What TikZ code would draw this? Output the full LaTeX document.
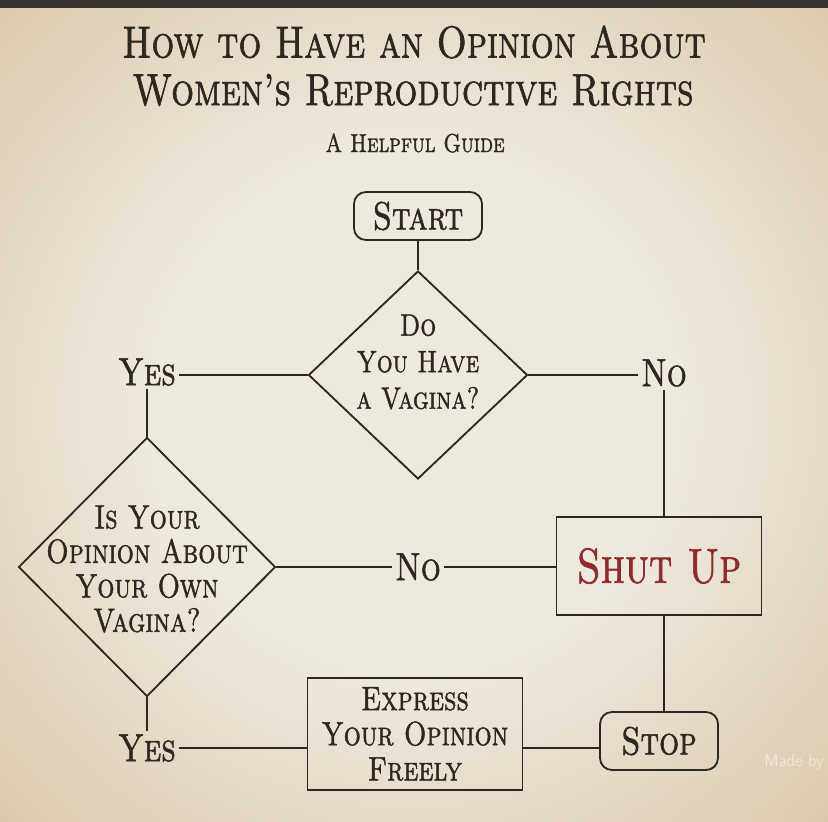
\documentclass[tikz,border=0pt]{standalone}
\usepackage{fontspec}
\usepackage{tikz}
\usetikzlibrary{shapes.geometric, positioning, calc}

\newfontfamily\capsfont{lmromancaps10-regular.otf}[Ligatures=TeX, FakeStretch=0.8, FakeBold=1.3]

\definecolor{ink}{HTML}{2E2620}
\definecolor{paper}{HTML}{EEE9DE}
\definecolor{papermid}{HTML}{DCCCB0}
\definecolor{paperedge}{HTML}{C3A684}
\definecolor{shutred}{HTML}{8E2B2B}
\definecolor{topband}{HTML}{3A3430}

\pgfdeclareradialshading{vignette}{\pgfpoint{0bp}{0bp}}{%
  color(0bp)=(paper); color(16bp)=(paper); color(34bp)=(papermid); color(48bp)=(paperedge); color(70bp)=(paperedge)}

\tikzset{
  flow/.style={draw=ink, line width=1.3pt},
  termbox/.style={draw=ink, line width=1.3pt, rounded corners=3mm, inner sep=0pt, text=ink},
  actbox/.style={draw=ink, line width=1.3pt, inner sep=0pt, text=ink},
  decision/.style={diamond, draw=ink, line width=1.3pt, inner sep=0pt},
  qtext/.style={text=ink, align=center, font=\fontsize{22}{26}\selectfont\capsfont},
  answer/.style={text=ink, inner sep=2pt, font=\fontsize{28}{30}\selectfont\capsfont},
}

\begin{document}
\begin{tikzpicture}[x=0.25mm, y=-0.25mm]
  \useasboundingbox (0,0) rectangle (828,821);
  \shade[shading=vignette] (0,0) rectangle (828,821);
  \fill[topband] (0,0) rectangle (828,8);

  % heading
  \node (title1) [text=ink, font=\fontsize{32}{34}\selectfont\capsfont] at (414,42) {How to Have an Opinion About};
  \node (title2) [text=ink, font=\fontsize{32}{34}\selectfont\capsfont] at (413,90) {Women's Reproductive Rights};
  \node (guide) [text=ink, font=\fontsize{18.5}{22}\selectfont\capsfont] at (415,143) {A Helpful Guide};

  % chart
  \node (start) [termbox, minimum width=32mm, minimum height=12mm, font=\fontsize{28}{30}\selectfont\capsfont] at (418,216) {Start};
  \node (q1) [decision, minimum width=54.75mm, minimum height=52mm] at (418,375) {};
  \node (q1text) [qtext] at (418,362) {Do\\You Have\\a Vagina?};
  \node (yes1) [answer] at (147,372) {Yes};
  \node (no1) [answer] at (664,373) {No};
  \node (q2) [decision, minimum width=64.25mm, minimum height=64.75mm] at (147,567) {};
  \node (q2text) [qtext, font=\fontsize{24}{24.5}\selectfont\capsfont] at (147,569) {Is Your\\Opinion About\\Your Own\\Vagina?};
  \node (no2) [answer] at (418,567) {No};
  \node (shut) [actbox, minimum width=51.25mm, minimum height=24.5mm, text=shutred, font=\fontsize{35}{38}\selectfont\capsfont] at (659,566) {Shut Up};
  \node (yes2) [answer] at (147,748) {Yes};
  \node (express) [actbox, align=center, minimum width=53.75mm, minimum height=28mm, font=\fontsize{24}{25}\selectfont\capsfont] at (415,734) {Express\\Your Opinion\\Freely};
  \node (stop) [termbox, minimum width=29.5mm, minimum height=14.5mm, font=\fontsize{28}{30}\selectfont\capsfont] at (659,741) {Stop};
  \node (madeby) [text=white, opacity=0.5, font=\fontsize{12}{13}\selectfont\sffamily] at (794,762) {Made by};

  \draw[flow] (start) -- (q1);
  \draw[flow] (q1.west) -- (q1.west -| yes1.east);
  \draw[flow] (yes1) -- (q2);
  \draw[flow] (q1.east) -- (q1.east -| no1.west);
  \draw[flow] (no1.south) -- (no1.south |- shut.north);
  \draw[flow] (q2.east) -- (no2.west);
  \draw[flow] (no2.east) -- (no2.east -| shut.west);
  \draw[flow] (shut.south -| no1.south) -- (stop.north -| no1.south);
  \draw[flow] (q2.south) -- (yes2.north);
  \draw[flow] (yes2.east) -- (yes2.east -| express.west);
  \draw[flow] (express.east |- yes2.east) -- (stop.west |- yes2.east);
\end{tikzpicture}
\end{document}
